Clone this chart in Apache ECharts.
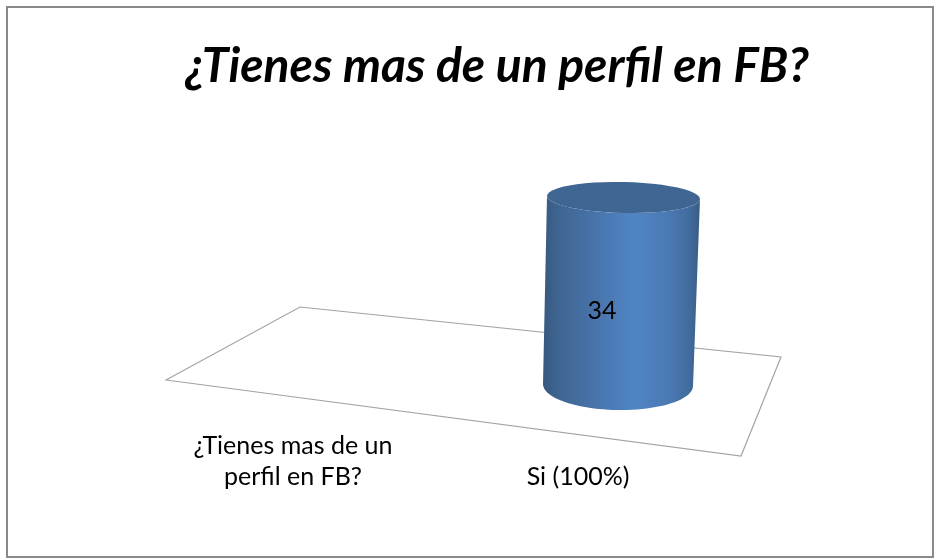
<!DOCTYPE html>
<html>
<head>
<meta charset="utf-8">
<style>html,body{margin:0;padding:0;background:#fff}#c{width:935px;height:558px}</style>
<script src="https://cdn.jsdelivr.net/npm/echarts@6/dist/echarts.min.js"></script>
</head>
<body>
<div id="c"></div>
<script>
const titleText = '¿Tienes mas de un perfil en FB?';
const categories = ['¿Tienes mas de un\nperfil en FB?', 'Si (100%)'];
const values = [null, 34];
const FONT = 'Lato';

function arc(cx, cy, rx, ry, tilt, from, to) {
  const pts = [];
  const n = 48;
  for (let i = 0; i <= n; i++) {
    const a = from + (to - from) * i / n;
    const x = rx * Math.cos(a), y = ry * Math.sin(a);
    pts.push([cx + x, cy + y + x * tilt]);
  }
  return pts;
}

function renderCylinder(params, api) {
  const v = api.value(1);
  if (v == null || isNaN(v)) return null;
  const base = api.coord([api.value(0), 0]);
  const top = api.coord([api.value(0), v]);
  const bx = base[0] + 40, by = base[1];
  const tx = top[0] + 45.5, ty = top[1];
  const rb = 75, ryb = 25, rt = 76.5, ryt = 15.5, tiltB = 0.012, tiltT = 0.02;
  const body = [].concat(
    arc(bx, by, rb, ryb, tiltB, Math.PI, 0),
    arc(tx, ty, rt, ryt, tiltT, 0, Math.PI)
  );
  return {
    type: 'group',
    children: [
      {
        type: 'polygon',
        shape: { points: body },
        style: {
          fill: new echarts.graphic.LinearGradient(0, 0, 1, 0, [
            { offset: 0, color: '#38597f' },
            { offset: 0.12, color: '#3f6795' },
            { offset: 0.32, color: '#4873a9' },
            { offset: 0.58, color: '#5085c5' },
            { offset: 0.8, color: '#4b79b3' },
            { offset: 0.93, color: '#426c9f' },
            { offset: 1, color: '#3a5c84' }
          ])
        }
      },
      {
        type: 'polygon',
        shape: { points: arc(tx, ty, rt, ryt, tiltT, 0, Math.PI * 2) },
        style: { fill: '#3f6592' }
      },
      {
        type: 'text',
        style: {
          text: String(v),
          x: bx - 16, y: by - 74,
          align: 'center', verticalAlign: 'middle',
          fill: '#000', fontFamily: FONT, fontSize: 25
        }
      }
    ]
  };
}

const chart = echarts.init(document.getElementById('c'), null, { renderer: 'canvas' });
chart.setOption({
  animation: false,
  backgroundColor: '#fff',
  title: {
    text: titleText,
    left: 492,
    top: 38,
    textAlign: 'center',
    textStyle: { fontFamily: FONT, fontSize: 48, fontWeight: 'bold', fontStyle: 'italic', color: '#000' }
  },
  grid: { left: 150.5, right: 214.5, top: 197.5, bottom: 173, containLabel: false },
  xAxis: {
    type: 'category',
    data: categories,
    axisLine: { show: false },
    axisTick: { show: false },
    splitLine: { show: false },
    axisLabel: {
      interval: 0,
      margin: 107,
      verticalAlign: 'bottom',
      align: 'center',
      color: '#000',
      fontFamily: FONT,
      fontSize: 25,
      lineHeight: 31
    }
  },
  yAxis: { type: 'value', min: 0, max: 34, show: false },
  graphic: [
    {
      type: 'rect', z: 0, silent: true,
      shape: { x: 7, y: 7, width: 926, height: 550 },
      style: { fill: '#fff', stroke: '#8a8a8a', lineWidth: 2 }
    },
    {
      type: 'polygon', z: 1, silent: true,
      shape: { points: [[166, 380], [300, 307], [781, 357], [741, 456]] },
      style: { fill: '#fff', stroke: '#a3a3a3', lineWidth: 1.2 }
    }
  ],
  series: [{
    type: 'custom',
    z: 5,
    coordinateSystem: 'cartesian2d',
    renderItem: renderCylinder,
    encode: { x: 0, y: 1 },
    data: values.map((v, i) => [i, v])
  }]
});
</script>
</body>
</html>
